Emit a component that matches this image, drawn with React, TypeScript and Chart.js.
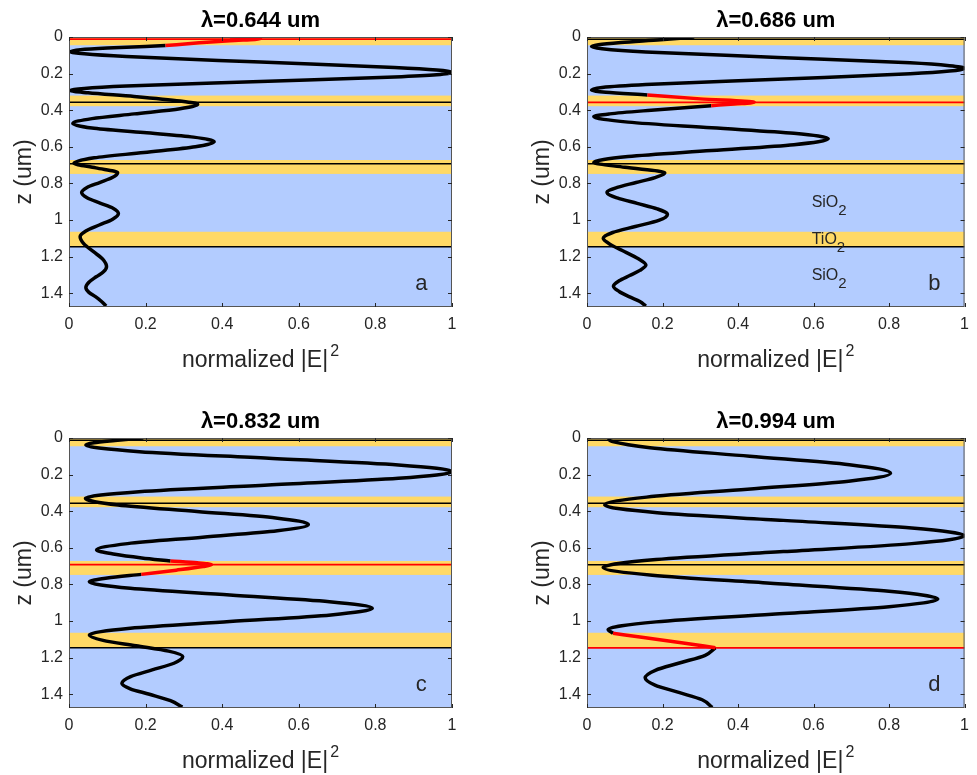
import React, { useEffect, useRef } from 'react';
import { Chart, registerables } from 'chart.js';

Chart.register(...registerables);

// ---------- data ----------
const xTicks = [0, 0.2, 0.4, 0.6, 0.8, 1];
const zTicks = [0, 0.2, 0.4, 0.6, 0.8, 1, 1.2, 1.4];
const zMax = 1.475;

// TiO2 layers (yellow) and interface lines
const tio2Top = [0, 0.32, 0.672, 1.064];
const tio2Bottom = [0.045, 0.378, 0.748, 1.146];
const interfaceZ = [0.012, 0.357, 0.692, 1.146];

const panelTitles = ['λ=0.644 um', 'λ=0.686 um', 'λ=0.832 um', 'λ=0.994 um'];
const panelLetters = ['a', 'b', 'c', 'd'];
const redInterface = [0, 1, 2, 3];
const redFrom = [0, 0.317, 0.672, 1.067];
const redTo = [0.047, 0.375, 0.745, 1.146];

const xTitleMain = 'normalized |E|';
const xTitleSup = '2';
const yTitle = 'z (um)';

// panel a
const aE = [0.42, 0.47, 0.5, 0.42, 0.34, 0.252, 0.1, 0.03, 0.004, 0.04, 0.15, 0.5, 0.85, 0.96, 1.0, 0.96, 0.85, 0.5, 0.15, 0.04, 0.004, 0.05, 0.17, 0.29, 0.336, 0.29, 0.17, 0.06, 0.01, 0.06, 0.195, 0.325, 0.379, 0.33, 0.196, 0.066, 0.013, 0.07, 0.127, 0.113, 0.08, 0.047, 0.033, 0.047, 0.081, 0.115, 0.129, 0.114, 0.079, 0.044, 0.029, 0.039, 0.064, 0.088, 0.098, 0.09, 0.071, 0.052, 0.044, 0.052, 0.07, 0.085, 0.097];
const aZ = [0, 0.004, 0.01, 0.02, 0.032, 0.047, 0.06, 0.069, 0.08, 0.092, 0.107, 0.137, 0.166, 0.18, 0.193, 0.206, 0.218, 0.243, 0.268, 0.281, 0.293, 0.305, 0.325, 0.35, 0.368, 0.392, 0.42, 0.446, 0.472, 0.497, 0.522, 0.547, 0.572, 0.6, 0.631, 0.66, 0.69, 0.715, 0.741, 0.768, 0.795, 0.822, 0.85, 0.878, 0.907, 0.935, 0.964, 0.995, 1.027, 1.06, 1.091, 1.13, 1.173, 1.214, 1.255, 1.283, 1.31, 1.34, 1.368, 1.395, 1.42, 1.445, 1.47];

// panel b
const bE = [0.284, 0.195, 0.09, 0.03, 0.012, 0.04, 0.156, 0.506, 0.856, 0.96, 1.0, 0.96, 0.856, 0.506, 0.156, 0.04, 0.012, 0.05, 0.16, 0.3, 0.443, 0.39, 0.329, 0.17, 0.06, 0.018, 0.109, 0.33, 0.548, 0.639, 0.548, 0.33, 0.109, 0.018, 0.1, 0.206, 0.18, 0.13, 0.08, 0.053, 0.08, 0.133, 0.186, 0.213, 0.19, 0.128, 0.068, 0.043, 0.065, 0.1, 0.135, 0.156, 0.14, 0.113, 0.085, 0.07, 0.085, 0.113, 0.14, 0.156];
const bZ = [0, 0.015, 0.03, 0.042, 0.052, 0.064, 0.082, 0.1115, 0.141, 0.157, 0.171, 0.186, 0.201, 0.2305, 0.26, 0.276, 0.29, 0.302, 0.317, 0.338, 0.357, 0.366, 0.375, 0.4, 0.42, 0.435, 0.465, 0.496, 0.526, 0.556, 0.588, 0.62, 0.653, 0.685, 0.712, 0.741, 0.768, 0.795, 0.822, 0.849, 0.879, 0.909, 0.939, 0.969, 1.002, 1.035, 1.068, 1.1, 1.137, 1.173, 1.21, 1.246, 1.275, 1.303, 1.332, 1.361, 1.39, 1.42, 1.445, 1.47];

// panel c
const cE = [0.194, 0.12, 0.065, 0.044, 0.184, 0.522, 0.86, 1.0, 0.86, 0.52, 0.183, 0.043, 0.128, 0.334, 0.54, 0.625, 0.544, 0.349, 0.153, 0.072, 0.12, 0.19, 0.265, 0.335, 0.372, 0.35, 0.28, 0.189, 0.1, 0.053, 0.16, 0.42, 0.68, 0.792, 0.684, 0.42, 0.16, 0.053, 0.089, 0.175, 0.26, 0.297, 0.274, 0.217, 0.161, 0.138, 0.16, 0.21, 0.265, 0.296];
const cZ = [0, 0.014, 0.026, 0.038, 0.0745, 0.111, 0.1475, 0.184, 0.2205, 0.257, 0.2935, 0.33, 0.3655, 0.401, 0.4365, 0.472, 0.507, 0.542, 0.577, 0.612, 0.635, 0.655, 0.672, 0.682, 0.692, 0.702, 0.722, 0.745, 0.765, 0.785, 0.821, 0.8575, 0.894, 0.93, 0.9665, 1.003, 1.0395, 1.076, 1.1055, 1.135, 1.1645, 1.194, 1.2305, 1.267, 1.3035, 1.34, 1.37, 1.4, 1.435, 1.47];

// panel d
const dE = [0.06, 0.058, 0.068, 0.167, 0.431, 0.695, 0.804, 0.693, 0.425, 0.158, 0.047, 0.186, 0.52, 0.86, 1.0, 0.86, 0.52, 0.183, 0.043, 0.173, 0.486, 0.8, 0.929, 0.8, 0.49, 0.183, 0.056, 0.069, 0.15, 0.25, 0.34, 0.313, 0.247, 0.181, 0.154, 0.18, 0.243, 0.305, 0.332];
const dZ = [0, 0.006, 0.02, 0.053, 0.0995, 0.146, 0.193, 0.236, 0.2795, 0.323, 0.366, 0.408, 0.45, 0.492, 0.534, 0.577, 0.6205, 0.664, 0.707, 0.75, 0.7935, 0.837, 0.88, 0.9215, 0.963, 1.0045, 1.046, 1.067, 1.09, 1.118, 1.146, 1.187, 1.228, 1.269, 1.31, 1.35, 1.39, 1.43, 1.472];

const curvesE = [aE, bE, cE, dE];
const curvesZ = [aZ, bZ, cZ, dZ];

// material labels (panel b)
const noteText = ['SiO', 'TiO', 'SiO'];
const noteSub = ['2', '2', '2'];
const noteE = [0.595, 0.595, 0.595];
const noteZ = [0.93, 1.131, 1.328];
const letterE = 0.92;
const letterZ = 1.35;

// ---------- styles / layout ----------
const FONT = '"Liberation Sans", Arial, Helvetica, sans-serif';
const SIO2 = '#B3CCFF';
const TIO2 = '#FFD966';
const TXT = '#262626';

const LAYOUT = [
  { left: 0, top: 0, w: 488, h: 388, padL: 0, padR: 36, padT: 37, xH: 81 },
  { left: 488, top: 0, w: 489, h: 388, padL: 30, padR: 7, padT: 37, xH: 81 },
  { left: 0, top: 388, w: 488, h: 387, padL: 0, padR: 36, padT: 50, xH: 67 },
  { left: 488, top: 388, w: 489, h: 387, padL: 30, padR: 7, padT: 50, xH: 67 },
];

function pts(E: number[], Z: number[], lo: number, hi: number) {
  const out: { x: number; y: number }[] = [];
  for (let i = 0; i < E.length; i++) {
    if (Z[i] >= lo - 1e-9 && Z[i] <= hi + 1e-9) out.push({ x: E[i], y: Z[i] });
  }
  return out;
}

function makeDeco(p: number) {
  return {
    id: 'deco' + p,
    beforeDatasetsDraw(chart: any) {
      const { ctx, chartArea: a } = chart;
      const y = chart.scales.y;
      ctx.save();
      ctx.fillStyle = SIO2;
      ctx.fillRect(a.left, a.top, a.right - a.left, a.bottom - a.top);
      ctx.fillStyle = TIO2;
      for (let i = 0; i < tio2Top.length; i++) {
        const y1 = y.getPixelForValue(tio2Top[i]);
        const y2 = y.getPixelForValue(tio2Bottom[i]);
        ctx.fillRect(a.left, Math.min(y1, y2), a.right - a.left, Math.abs(y2 - y1));
      }
      ctx.restore();
    },
    afterDatasetsDraw(chart: any) {
      const { ctx, chartArea: a } = chart;
      const x = chart.scales.x;
      const y = chart.scales.y;
      ctx.save();
      // box
      ctx.strokeStyle = '#555';
      ctx.lineWidth = 1;
      ctx.strokeRect(a.left + 0.5, a.top + 0.5, a.right - a.left - 1, a.bottom - a.top - 1);
      // inward ticks
      ctx.strokeStyle = TXT;
      ctx.beginPath();
      const tl = 4;
      xTicks.forEach((v) => {
        const px = Math.round(x.getPixelForValue(v)) + 0.5;
        ctx.moveTo(px, a.bottom);
        ctx.lineTo(px, a.bottom - tl);
        ctx.moveTo(px, a.top);
        ctx.lineTo(px, a.top + tl);
      });
      zTicks.forEach((v) => {
        const py = Math.round(y.getPixelForValue(v)) + 0.5;
        ctx.moveTo(a.left, py);
        ctx.lineTo(a.left + tl, py);
        ctx.moveTo(a.right, py);
        ctx.lineTo(a.right - tl, py);
      });
      ctx.stroke();
      // title
      ctx.fillStyle = '#000';
      ctx.font = 'bold 22px ' + FONT;
      ctx.textAlign = 'center';
      ctx.textBaseline = 'middle';
      ctx.fillText(panelTitles[p], (a.left + a.right) / 2, a.top - 16);
      // x axis title with superscript
      ctx.fillStyle = TXT;
      ctx.textBaseline = 'alphabetic';
      ctx.textAlign = 'left';
      ctx.font = '23px ' + FONT;
      const wMain = ctx.measureText(xTitleMain).width;
      ctx.font = '16px ' + FONT;
      const wSup = ctx.measureText(xTitleSup).width;
      const total = wMain + 2 + wSup;
      const x0 = (a.left + a.right) / 2 - total / 2;
      const base = a.bottom + 60;
      ctx.font = '23px ' + FONT;
      ctx.fillText(xTitleMain, x0, base);
      ctx.font = '16px ' + FONT;
      ctx.fillText(xTitleSup, x0 + wMain + 2, base - 11);
      // letter
      ctx.font = '22px ' + FONT;
      ctx.textAlign = 'center';
      ctx.textBaseline = 'middle';
      ctx.fillText(panelLetters[p], x.getPixelForValue(letterE), y.getPixelForValue(letterZ));
      // material notes
      if (p === 1) {
        ctx.textAlign = 'left';
        ctx.textBaseline = 'alphabetic';
        for (let i = 0; i < noteText.length; i++) {
          const px = x.getPixelForValue(noteE[i]);
          const py = y.getPixelForValue(noteZ[i]);
          ctx.font = '16px ' + FONT;
          ctx.fillText(noteText[i], px, py);
          const w = ctx.measureText(noteText[i]).width;
          ctx.font = '15px ' + FONT;
          ctx.fillText(noteSub[i], px + w, py + 7.5);
        }
      }
      ctx.restore();
    },
  };
}

function makeConfig(p: number): any {
  const E = curvesE[p];
  const Z = curvesZ[p];
  const L = LAYOUT[p];
  const curveBase = {
    borderWidth: 3.5,
    pointRadius: 0,
    fill: false,
    cubicInterpolationMode: 'monotone',
  };
  const datasets: any[] = [
    { ...curveBase, data: pts(E, Z, redFrom[p], redTo[p]), borderColor: '#ff0000', order: 0 },
    { ...curveBase, data: pts(E, Z, -1, redFrom[p]), borderColor: '#000', order: 1 },
    { ...curveBase, data: pts(E, Z, redTo[p], 99), borderColor: '#000', order: 1 },
  ];
  interfaceZ.forEach((z, i) => {
    datasets.push({
      data: [
        { x: xTicks[0], y: z },
        { x: xTicks[xTicks.length - 1], y: z },
      ],
      borderColor: i === redInterface[p] ? '#ff0000' : '#000',
      borderWidth: i === redInterface[p] ? 1.8 : 1.5,
      pointRadius: 0,
      tension: 0,
      fill: false,
      order: 2,
    });
  });
  const tickFont = { family: FONT, size: 16 };
  const fmt = (v: any) => String(Number(Number(v).toFixed(2)));
  return {
    type: 'line',
    data: { datasets },
    plugins: [makeDeco(p)],
    options: {
      indexAxis: 'y',
      animation: false,
      responsive: false,
      events: [],
      layout: { padding: { top: L.padT, left: L.padL, right: L.padR, bottom: 0 } },
      plugins: {
        legend: { display: false },
        tooltip: { enabled: false },
        title: { display: false },
      },
      scales: {
        x: {
          type: 'linear',
          position: 'bottom',
          min: 0,
          max: 1,
          grid: { display: false, drawTicks: false },
          border: { display: false },
          ticks: { font: tickFont, color: TXT, padding: 8, callback: fmt, maxRotation: 0 },
          afterBuildTicks: (s: any) => {
            s.ticks = xTicks.map((v) => ({ value: v }));
          },
          afterFit: (s: any) => {
            s.height = L.xH;
          },
          title: { display: false },
        },
        y: {
          type: 'linear',
          position: 'left',
          reverse: true,
          min: 0,
          max: zMax,
          grid: { display: false, drawTicks: false },
          border: { display: false },
          ticks: { font: tickFont, color: TXT, padding: 6, callback: fmt },
          afterBuildTicks: (s: any) => {
            s.ticks = zTicks.map((v) => ({ value: v }));
          },
          afterFit: (s: any) => {
            s.width = 69;
          },
          title: {
            display: true,
            text: yTitle,
            color: TXT,
            font: { family: FONT, size: 23 },
            padding: { top: 11, bottom: 0 },
          },
        },
      },
    },
  };
}

function Panel({ p }: { p: number }) {
  const ref = useRef<HTMLCanvasElement | null>(null);
  useEffect(() => {
    if (!ref.current) return;
    const chart = new Chart(ref.current, makeConfig(p));
    return () => chart.destroy();
  }, [p]);
  const L = LAYOUT[p];
  return (
    <canvas
      ref={ref}
      width={L.w}
      height={L.h}
      style={{ position: 'absolute', left: L.left, top: L.top, width: L.w, height: L.h }}
    />
  );
}

export default function App() {
  useEffect(() => {
    document.body.style.margin = '0';
  }, []);
  return (
    <div
      style={{
        position: 'absolute',
        left: 0,
        top: 0,
        width: 977,
        height: 775,
        background: '#fff',
        overflow: 'hidden',
      }}
    >
      {[0, 1, 2, 3].map((p) => (
        <Panel key={p} p={p} />
      ))}
    </div>
  );
}
